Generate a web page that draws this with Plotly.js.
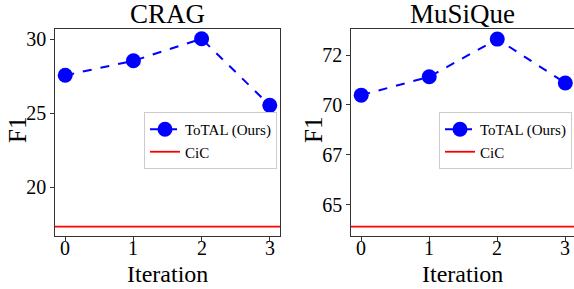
<!DOCTYPE html>
<html><head><meta charset="utf-8">
<script src="https://cdn.plot.ly/plotly-3.0.1.min.js"></script>
<style>html,body{margin:0;padding:0;overflow:hidden;background:#fff}#chart{width:600px;height:289px}</style>
</head><body><div id="chart"></div>
<script>
const iterations = [0, 1, 2, 3];
const iterationLabels = ['0', '1', '2', '3'];
const cragTotal = [27.57, 28.55, 30.04, 25.54];
const cragCiC = 17.35;
const musiqueTotal = [70.49, 71.41, 73.30, 71.10];
const musiqueCiC = 63.90;
const panelTitles = ['CRAG', 'MuSiQue'];
const xLabel = 'Iteration';
const yLabel = 'F1';
const cragTickVals = [20, 25, 30];
const cragTickText = ['20', '25', '30'];
const musiqueTickVals = [65, 67.5, 70, 72.5];
const musiqueTickText = ['65', '67', '70', '72'];
const xRange = [-0.15, 3.15];

const W = 600, H = 289;
const FONT = 'Liberation Serif, Times New Roman, serif';
const px = v => v / W;
const py = v => 1 - v / H;

const totalStyle = {mode: 'lines+markers', line: {color: '#0000ff', width: 2, dash: 'dash'}, marker: {color: '#0000ff', size: 15}, name: 'ToTAL (Ours)'};
const cicStyle = {mode: 'lines', line: {color: '#ff0000', width: 1.8}, name: 'CiC'};

const traces = [
  Object.assign({x: iterations, y: cragTotal, xaxis: 'x', yaxis: 'y', legend: 'legend'}, totalStyle),
  Object.assign({x: xRange, y: [cragCiC, cragCiC], xaxis: 'x', yaxis: 'y', legend: 'legend'}, cicStyle),
  Object.assign({x: iterations, y: musiqueTotal, xaxis: 'x2', yaxis: 'y2', legend: 'legend2'}, totalStyle),
  Object.assign({x: xRange, y: [musiqueCiC, musiqueCiC], xaxis: 'x2', yaxis: 'y2', legend: 'legend2'}, cicStyle)
];

const axBase = {showline: true, mirror: true, linecolor: '#333', linewidth: 1.2, ticks: 'outside', ticklen: 3.5, tickcolor: '#333', showgrid: false, zeroline: false, tickfont: {family: FONT, size: 20, color: '#000'}};
const yDom = [py(236), py(29.3)];

const legBase = {font: {family: FONT, size: 15, color: '#000'}, bordercolor: '#cccccc', borderwidth: 1, bgcolor: 'rgba(255,255,255,0.8)', xanchor: 'left', yanchor: 'top', tracegroupgap: 0};

const txt = (text, x, y, size, extra) => Object.assign({text: text, xref: 'paper', yref: 'paper', x: px(x), y: py(y), xanchor: 'center', yanchor: 'middle', showarrow: false, font: {family: FONT, size: size, color: '#000'}}, extra || {});

const xTickAnnots = [];
['x', 'x2'].forEach(ax => iterations.forEach((v, i) => xTickAnnots.push({
  text: iterationLabels[i], xref: ax, yref: 'paper', x: v, y: py(248), xanchor: 'center', yanchor: 'middle',
  showarrow: false, font: {family: FONT, size: 20, color: '#000'}
})));

const layout = {
  width: W, height: H,
  margin: {l: 0, r: 0, t: 0, b: 0},
  paper_bgcolor: '#fff', plot_bgcolor: '#fff',
  xaxis: Object.assign({}, axBase, {domain: [px(55), px(280)], range: xRange, tickvals: iterations, showticklabels: false, anchor: 'y'}),
  yaxis: Object.assign({}, axBase, {domain: yDom, range: [16.71, 30.68], tickvals: cragTickVals, ticktext: cragTickText, anchor: 'x'}),
  xaxis2: Object.assign({}, axBase, {domain: [px(351), px(575.5)], range: xRange, tickvals: iterations, showticklabels: false, anchor: 'y2'}),
  yaxis2: Object.assign({}, axBase, {domain: yDom, range: [63.43, 73.79], tickvals: musiqueTickVals, ticktext: musiqueTickText, anchor: 'x2'}),
  legend: Object.assign({}, legBase, {x: px(144), y: py(112)}),
  legend2: Object.assign({}, legBase, {x: px(439), y: py(112)}),
  showlegend: true,
  annotations: [
    txt(panelTitles[0], 167.5, 14, 27),
    txt(panelTitles[1], 463, 14, 27),
    txt(xLabel, 167.5, 274, 24),
    txt(xLabel, 463, 274, 24),
    txt(yLabel, 17, 130, 25, {textangle: -90}),
    txt(yLabel, 313, 130, 25, {textangle: -90})
  ].concat(xTickAnnots)
};

Plotly.newPlot('chart', traces, layout, {displayModeBar: false, staticPlot: true});
</script></body></html>
